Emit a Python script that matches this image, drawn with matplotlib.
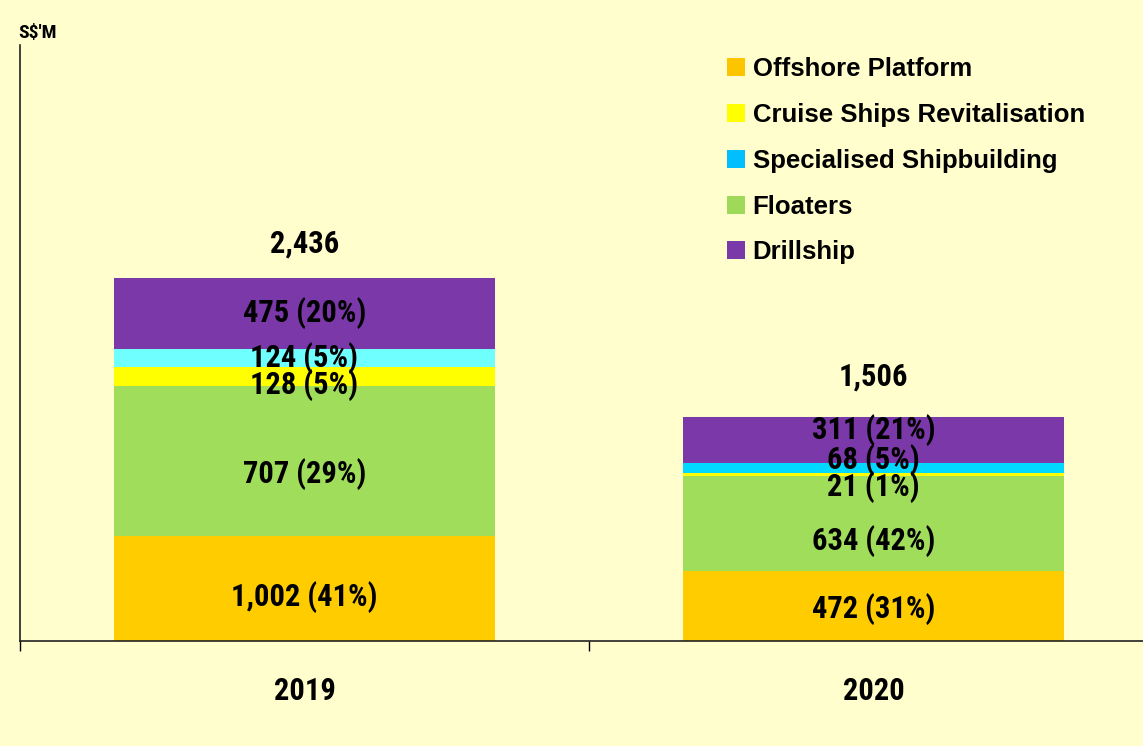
import matplotlib.pyplot as plt
from matplotlib.patches import Patch

# Values (S$ million)
years = ['2019', '2020']
offshore = [1002, 472]
floaters = [707, 634]
cruise = [128, 21]
specialised = [124, 68]
drillship = [475, 311]
totals = [2436, 1506]

# percentages as printed on the chart
offshore_pct = [41, 31]
floaters_pct = [29, 42]
cruise_pct = [5, 1]
specialised_pct = [5, 5]
drillship_pct = [20, 21]

# the source picture draws the 2019 offshore / floaters blocks with swapped heights
offshore_drawn = [707, 472]
floaters_drawn = [1002, 634]

bg = '#FFFECC'
narrow = ['Roboto Condensed', 'DejaVu Sans']
label_fs = 22

fig = plt.figure(figsize=(11.43, 7.46), dpi=100, facecolor=bg)
ax = fig.add_axes([20 / 1143, 1 - 641 / 746, 1138 / 1143, (641 - 45) / 746])
ax.set_facecolor(bg)

x = [0, 1]
width = 0.67
segments = [
    # drawn heights, shown values, pct, colours per bar, label offsets (px) per bar
    (offshore_drawn, offshore, offshore_pct, ['#FFCC00', '#FFCC00'], [-9, -3]),
    (floaters_drawn, floaters, floaters_pct, ['#A0DD5A', '#A0DD5A'], [-13, -18]),
    (cruise, cruise, cruise_pct, ['#FFFF00', '#FFFF00'], [-8, -12]),
    (specialised, specialised, specialised_pct, ['#70FFFF', '#00D8FF'], [0, 8]),
    (drillship, drillship, drillship_pct, ['#7A38A8', '#7A38A8'], [0, 10]),
]

bottom = [0, 0]
for heights, vals, pcts, cols, offs in segments:
    ax.bar(x, heights, width, bottom=bottom, color=cols, linewidth=0)
    for i in range(len(x)):
        mid = bottom[i] + heights[i] / 2
        ax.annotate(f'{vals[i]:,} ({pcts[i]}%)', xy=(x[i], mid),
                    xytext=(0, offs[i] * 0.72), textcoords='offset points',
                    ha='center', va='center', fontsize=label_fs,
                    fontweight='bold', family=narrow)
    bottom = [b + h for b, h in zip(bottom, heights)]

for i in range(len(x)):
    ax.annotate(f'{totals[i]:,}', xy=(x[i], bottom[i]),
                xytext=(0, [35, 40][i] * 0.72), textcoords='offset points',
                ha='center', va='center', fontsize=label_fs,
                fontweight='bold', family=narrow)

ax.set_xlim(-0.5, 1.5)
ax.set_ylim(0, 4000)
ax.set_yticks([])
ax.set_xticks(x)
ax.set_xticklabels(years, fontsize=label_fs, fontweight='bold', family=narrow)
ax.tick_params(axis='x', which='major', length=0, pad=25)
ax.set_xticks([-0.5, 0.5, 1.5], minor=True)
ax.tick_params(axis='x', which='minor', length=7.2, width=1, direction='out')
for s in ['top', 'right']:
    ax.spines[s].set_visible(False)
for s in ['left', 'bottom']:
    ax.spines[s].set_color('#222222')
    ax.spines[s].set_linewidth(1.2)

fig.text(18 / 1143, 1 - 33 / 746, "S$'M", fontsize=14, fontweight='bold',
         family=narrow, va='center', ha='left')

legend_names = ['Offshore Platform', 'Cruise Ships Revitalisation',
                'Specialised Shipbuilding', 'Floaters', 'Drillship']
legend_cols = ['#FFC400', '#FFFF00', '#00BFFF', '#9ED95A', '#7A38A8']
handles = [Patch(facecolor=c, edgecolor='none') for c in legend_cols]
fig.legend(handles, legend_names, loc='upper left',
           bbox_to_anchor=(727 / 1143, 1 - 57 / 746), frameon=False,
           prop={'family': 'Liberation Sans', 'weight': 'bold', 'size': 18.5},
           handlelength=0.7, handleheight=0.7, handletextpad=0.3,
           labelspacing=0.85, borderpad=0, borderaxespad=0)

fig.savefig('out.png', dpi=100, facecolor=bg)
